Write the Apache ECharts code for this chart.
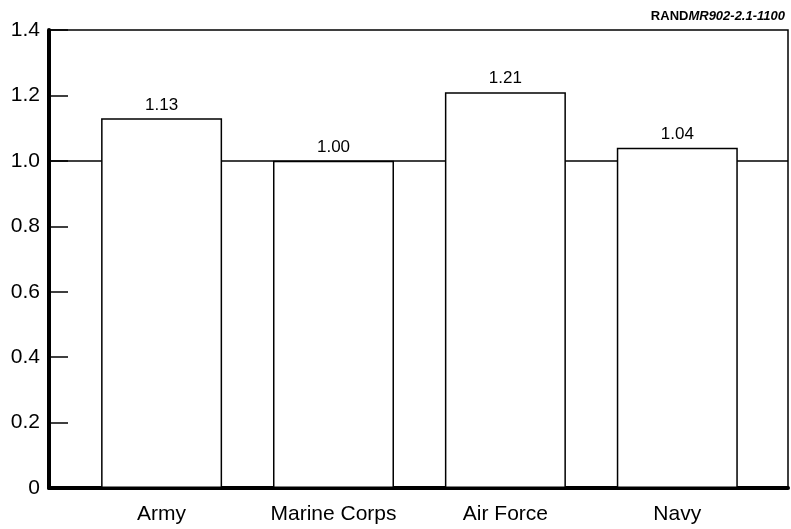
<!DOCTYPE html>
<html>
<head>
<meta charset="utf-8">
<script src="https://cdn.jsdelivr.net/npm/echarts@6/dist/echarts.min.js"></script>
<style>html,body{margin:0;padding:0;background:#fff;}#c{width:791px;height:529px;}</style>
</head>
<body>
<div id="c"></div>
<script>
const categories = ['Army', 'Marine Corps', 'Air Force', 'Navy'];
const values = [1.13, 1.00, 1.21, 1.04];
const positions = [1, 2, 3, 4];
const referenceValue = 1.0;
const yTickLabels = ['0', '0.2', '0.4', '0.6', '0.8', '1.0', '1.2', '1.4'];

const chart = echarts.init(document.getElementById('c'));
const font = '"Liberation Sans", Arial, Helvetica, sans-serif';
chart.setOption({
  animation: false,
  backgroundColor: '#fff',
  title: {
    right: 1, top: 5,
    text: '{b|RAND}{i|MR902-2.1-1100}',
    textStyle: {
      rich: {
        b: {fontFamily: font, fontWeight: 'bold', fontSize: 13, color: '#000'},
        i: {fontFamily: font, fontStyle: 'italic', fontSize: 13, color: '#000'}
      }
    }
  },
  grid: {left: 49, right: 3, top: 30, bottom: 41, show: true, borderColor: '#000', borderWidth: 1.5, backgroundColor: 'transparent'},
  xAxis: {
    type: 'value', min: 0.345, max: 4.644,
    splitLine: {show: false},
    axisTick: {show: false},
    axisLine: {show: true, onZero: false, lineStyle: {color: '#000', width: 4}},
    axisLabel: {
      customValues: positions,
      formatter: v => categories[Math.round(v) - 1] || '',
      fontFamily: font, fontSize: 21, color: '#000', margin: 16
    }
  },
  yAxis: {
    type: 'value', min: 0, max: 1.4, interval: 0.2,
    splitLine: {show: false},
    axisLine: {show: true, lineStyle: {color: '#000', width: 4}},
    axisTick: {show: true, inside: true, length: 19, lineStyle: {color: '#000', width: 1.5}},
    axisLabel: {
      formatter: (v) => yTickLabels[Math.round(v / 0.2)],
      fontFamily: font, fontSize: 21, color: '#000', margin: 9
    }
  },
  series: [
    {
      type: 'line', data: [], z: 1, silent: true,
      markLine: {
        z: 1,
        symbol: 'none', silent: true, label: {show: false},
        lineStyle: {color: '#000', width: 1.5, type: 'solid'},
        data: [{yAxis: referenceValue}]
      }
    },
    {
      type: 'bar', z: 3, barWidth: 121,
      data: positions.map((p, i) => [p, values[i]]),
      itemStyle: {color: '#fff', borderColor: '#000', borderWidth: 1.5},
      label: {
        show: true, position: 'top', distance: 5,
        formatter: p => p.value[1].toFixed(2),
        fontFamily: font, fontSize: 17, color: '#000'
      }
    }
  ]
});
</script>
</body>
</html>
